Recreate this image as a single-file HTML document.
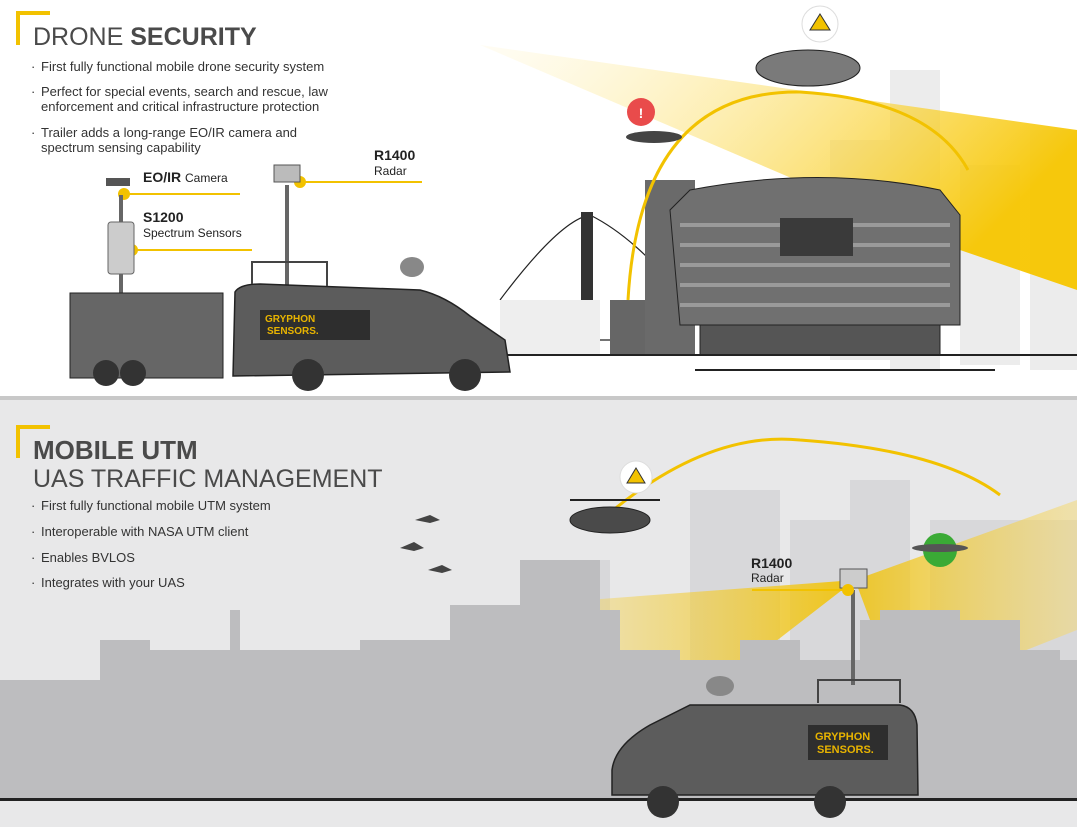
<!DOCTYPE html>
<html><head><meta charset="utf-8"><style>
body{margin:0;width:1077px;height:827px;overflow:hidden;background:#fff;font-family:"Liberation Sans",sans-serif}
svg{display:block}
</style></head><body>
<svg width="1077" height="827" viewBox="0 0 1077 827" xmlns="http://www.w3.org/2000/svg" font-family="Liberation Sans, sans-serif">
<defs>
<linearGradient id="g1" x1="0" y1="0" x2="1" y2="0.4"><stop offset="0" stop-color="#fff4c8" stop-opacity="0.2"/><stop offset="1" stop-color="#f7c600" stop-opacity="0.95"/></linearGradient>
<linearGradient id="g2" x1="1" y1="0" x2="0" y2="0"><stop offset="0" stop-color="#f2c200" stop-opacity="0.9"/><stop offset="1" stop-color="#f5d970" stop-opacity="0.3"/></linearGradient>
<linearGradient id="g3" x1="0" y1="0" x2="1" y2="0"><stop offset="0" stop-color="#f2c200" stop-opacity="0.8"/><stop offset="1" stop-color="#f5d970" stop-opacity="0.5"/></linearGradient>
</defs>
<rect x="0" y="0" width="1077" height="396" fill="#fff"/>
<g fill="#ececec">
<rect x="890" y="70" width="50" height="300"/><rect x="960" y="165" width="60" height="200"/><rect x="1030" y="130" width="47" height="240"/><rect x="830" y="140" width="60" height="220"/>
</g>
<polygon points="480,45 1077,130 1077,290 960,250" fill="url(#g1)"/>
<g stroke="#222" fill="none" stroke-width="1.2">
<path d="M500,300 Q560,220 590,215 Q620,230 650,260"/>
<line x1="500" y1="340" x2="660" y2="340"/>
</g>
<rect x="581" y="212" width="12" height="143" fill="#333"/>
<rect x="500" y="300" width="100" height="55" fill="#eee"/>
<rect x="610" y="300" width="35" height="55" fill="#666"/>
<rect x="645" y="180" width="50" height="175" fill="#6a6a6a"/>
<path d="M690,190 Q820,165 940,190 L960,215 L960,325 L680,325 L670,210 Z" fill="#707070" stroke="#222"/>
<g stroke="#9a9a9a" stroke-width="4"><line x1="680" y1="225" x2="950" y2="225"/><line x1="680" y1="245" x2="950" y2="245"/><line x1="680" y1="265" x2="950" y2="265"/><line x1="680" y1="285" x2="950" y2="285"/><line x1="680" y1="305" x2="950" y2="305"/></g>
<rect x="780" y="218" width="73" height="38" fill="#3a3a3a"/>
<rect x="700" y="325" width="240" height="30" fill="#555" stroke="#222"/>
<line x1="695" y1="370" x2="995" y2="370" stroke="#222" stroke-width="2"/>
<line x1="440" y1="355" x2="1077" y2="355" stroke="#222" stroke-width="2"/>
<path d="M628,300 Q640,90 800,92 Q930,100 968,170" fill="none" stroke="#f2c200" stroke-width="3"/>
<ellipse cx="808" cy="68" rx="52" ry="18" fill="#7a7a7a" stroke="#222"/>
<circle cx="820" cy="24" r="18" fill="#fff" stroke="#ddd"/><polygon points="820,14 830,30 810,30" fill="#f2c200" stroke="#333"/>
<circle cx="641" cy="112" r="14" fill="#e94b4b"/><text x="641" y="118" font-size="14" fill="#fff" text-anchor="middle" font-weight="bold">!</text>
<ellipse cx="654" cy="137" rx="28" ry="6" fill="#444"/>
<path d="M18,45 V13 H50" fill="none" stroke="#f2c200" stroke-width="4"/>
<text x="33" y="45" font-size="25" fill="#4a4a4a">DRONE <tspan font-weight="bold">SECURITY</tspan></text>
<g font-size="13" fill="#333">
<text x="31" y="71">·</text><text x="41" y="71">First fully functional mobile drone security system</text>
<text x="31" y="96">·</text><text x="41" y="96">Perfect for special events, search and rescue, law</text><text x="41" y="111">enforcement and critical infrastructure protection</text>
<text x="31" y="137">·</text><text x="41" y="137">Trailer adds a long-range EO/IR camera and</text><text x="41" y="152">spectrum sensing capability</text>
</g>
<g fill="#222">
<text x="143" y="182" font-size="14" font-weight="bold">EO/IR <tspan font-weight="normal" font-size="12">Camera</tspan></text>
<text x="143" y="222" font-size="14" font-weight="bold">S1200</text><text x="143" y="237" font-size="12">Spectrum Sensors</text>
<text x="374" y="160" font-size="14" font-weight="bold">R1400</text><text x="374" y="175" font-size="12">Radar</text>
</g>
<g stroke="#f2c200" stroke-width="2" fill="#f2c200">
<line x1="124" y1="194" x2="240" y2="194"/><circle cx="124" cy="194" r="5"/>
<line x1="132" y1="250" x2="252" y2="250"/><circle cx="132" cy="250" r="5"/>
<line x1="300" y1="182" x2="422" y2="182"/><circle cx="300" cy="182" r="5"/>
</g>
<rect x="119" y="195" width="4" height="110" fill="#666"/><rect x="108" y="222" width="26" height="52" rx="3" fill="#ccc" stroke="#666"/>
<rect x="106" y="178" width="24" height="8" fill="#555"/>
<rect x="285" y="185" width="4" height="115" fill="#666"/><rect x="274" y="165" width="26" height="17" fill="#bbb" stroke="#555"/>
<rect x="70" y="293" width="153" height="85" fill="#666" stroke="#222"/>
<circle cx="106" cy="373" r="13" fill="#333"/><circle cx="133" cy="373" r="13" fill="#333"/>
<path d="M235,292 Q240,284 260,284 L420,290 Q445,296 470,316 L505,340 L510,372 L233,376 Z" fill="#5c5c5c" stroke="#222" stroke-width="1.5"/>
<rect x="260" y="310" width="110" height="30" fill="#2e2e2e"/>
<text x="265" y="322" font-size="10" fill="#e8b400" font-weight="bold">GRYPHON</text><text x="267" y="334" font-size="10" fill="#e8b400" font-weight="bold">SENSORS.</text>
<circle cx="308" cy="375" r="16" fill="#333"/><circle cx="465" cy="375" r="16" fill="#333"/>
<path d="M252,284 V262 H327 V286" fill="none" stroke="#444" stroke-width="2"/>
<ellipse cx="412" cy="267" rx="12" ry="10" fill="#888"/>
<rect x="0" y="396" width="1077" height="4" fill="#c8c8c8"/>
<rect x="0" y="400" width="1077" height="427" fill="#e8e8e9"/>
<g fill="#d8d8da">
<rect x="690" y="490" width="90" height="200"/><rect x="790" y="520" width="60" height="180"/><rect x="850" y="480" width="60" height="220"/><rect x="930" y="520" width="147" height="180"/><rect x="520" y="560" width="90" height="120"/>
</g>
<polygon points="520,605 855,580 700,700 540,640" fill="url(#g2)"/>
<polygon points="855,580 1077,500 1077,630 900,700" fill="url(#g3)"/>
<path d="M0,680 H100 V640 H150 V650 H230 V610 H240 V650 H360 V640 H450 V605 H520 V560 H600 V610 H620 V650 H680 V660 H740 V640 H800 V660 H860 V620 H880 V610 H960 V620 H1020 V650 H1060 V660 H1077 V800 H0 Z" fill="#bdbdbf"/>
<rect x="0" y="798" width="1077" height="3" fill="#222"/>
<path d="M590,530 Q700,430 800,440 Q940,450 1000,495" fill="none" stroke="#f2c200" stroke-width="3"/>
<circle cx="636" cy="477" r="16" fill="#fff" stroke="#ddd"/><polygon points="636,468 645,483 627,483" fill="#f2c200" stroke="#333"/>
<ellipse cx="610" cy="520" rx="40" ry="13" fill="#4a4a4a" stroke="#222"/><line x1="570" y1="500" x2="660" y2="500" stroke="#222" stroke-width="2"/>
<circle cx="940" cy="550" r="17" fill="#3aaa35"/><ellipse cx="940" cy="548" rx="28" ry="4" fill="#555"/>
<g fill="#444"><path d="M415,520 l15,-5 l10,5 l-10,3 Z"/><path d="M400,548 l14,-6 l10,6 l-10,3 Z"/><path d="M428,570 l14,-5 l10,5 l-10,3 Z"/></g>
<rect x="851" y="590" width="4" height="95" fill="#666"/><rect x="840" y="569" width="27" height="19" fill="#ccc" stroke="#555"/>
<g stroke="#f2c200" stroke-width="2" fill="#f2c200"><line x1="752" y1="590" x2="848" y2="590"/><circle cx="848" cy="590" r="5"/></g>
<text x="751" y="568" font-size="14" font-weight="bold" fill="#222">R1400</text><text x="751" y="582" font-size="12" fill="#222">Radar</text>
<path d="M612,770 Q615,745 650,725 L690,705 L900,705 Q915,707 917,725 L918,795 L612,795 Z" fill="#5c5c5c" stroke="#222" stroke-width="1.5"/>
<rect x="808" y="725" width="80" height="35" fill="#2e2e2e"/>
<text x="815" y="740" font-size="11" fill="#e8b400" font-weight="bold">GRYPHON</text><text x="817" y="753" font-size="11" fill="#e8b400" font-weight="bold">SENSORS.</text>
<circle cx="663" cy="802" r="16" fill="#333"/><circle cx="830" cy="802" r="16" fill="#333"/>
<path d="M818,703 V680 H900 V703" fill="none" stroke="#444" stroke-width="2"/>
<ellipse cx="720" cy="686" rx="14" ry="10" fill="#888"/>
<path d="M18,458 V427 H50" fill="none" stroke="#f2c200" stroke-width="4"/>
<text x="33" y="459" font-size="26" font-weight="bold" fill="#4a4a4a">MOBILE UTM</text>
<text x="33" y="487" font-size="25" fill="#4a4a4a">UAS TRAFFIC MANAGEMENT</text>
<g font-size="13" fill="#333">
<text x="31" y="510">·</text><text x="41" y="510">First fully functional mobile UTM system</text>
<text x="31" y="536">·</text><text x="41" y="536">Interoperable with NASA UTM client</text>
<text x="31" y="562">·</text><text x="41" y="562">Enables BVLOS</text>
<text x="31" y="587">·</text><text x="41" y="587">Integrates with your UAS</text>
</g>
</svg>
</body></html>
